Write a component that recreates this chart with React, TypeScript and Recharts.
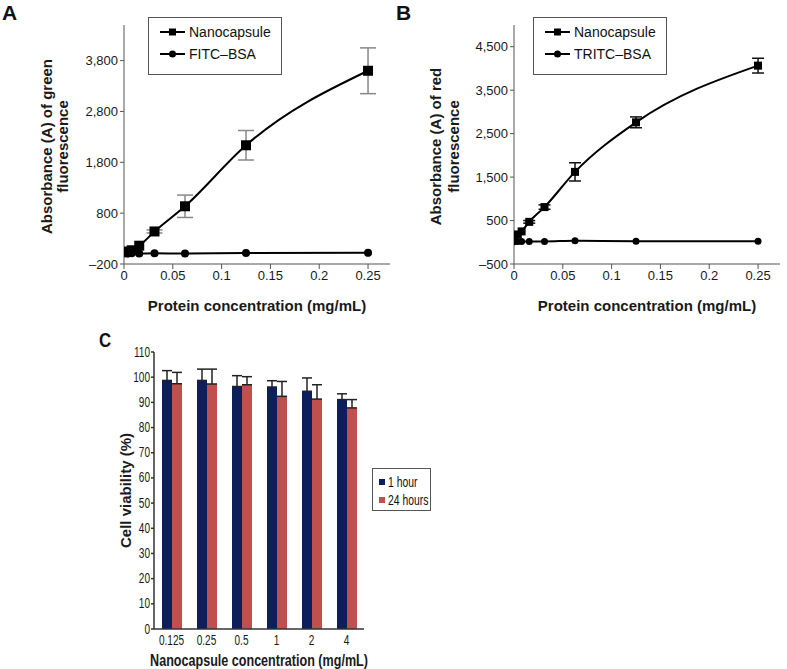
import React from 'react';
import {
  LineChart, Line, BarChart, Bar, XAxis, YAxis, ErrorBar, Legend, Label,
} from 'recharts';

// protein concentration (mg/mL), shared by panels A and B
const protein = [0, 0.0039, 0.0078, 0.0156, 0.03125, 0.0625, 0.125, 0.25];
const proteinTicks = [0, 0.05, 0.1, 0.15, 0.2, 0.25];

// panel A – green fluorescence
const greenNano = [30, 45, 70, 160, 440, 935, 2135, 3600];
const greenNanoErr = [0, 0, 0, 0, 30, 220, 290, 450];
const fitcBsa = [15, 5, 10, 5, 10, 5, 15, 20];
const greenTicks = [-200, 800, 1800, 2800, 3800];

// panel B – red fluorescence
const redNano = [130, 180, 250, 470, 810, 1620, 2760, 4065];
const redNanoErr = [0, 0, 0, 30, 50, 210, 125, 170];
const tritcBsa = [10, 20, 20, 20, 20, 35, 25, 25];
const redTicks = [-500, 500, 1500, 2500, 3500, 4500];

// panel C – cell viability
const capsuleConc = ['0.125', '0.25', '0.5', '1', '2', '4'];
const viability1h = [98.7, 98.7, 96.3, 96.1, 94.4, 91.1];
const viability1hErr = [3.9, 4.5, 4.3, 2.5, 5.3, 2.3];
const viability24h = [97.4, 97.3, 97.0, 92.4, 91.3, 87.8];
const viability24hErr = [4.5, 5.9, 3.2, 5.9, 5.7, 3.3];
const viabilityTicks = [0, 10, 20, 30, 40, 50, 60, 70, 80, 90, 100, 110];

const SANS = '"Liberation Sans", Arial, sans-serif';
const NAVY = '#0c1f5c';
const BRICK = '#c0504d';
const INK = '#1a1a1a';

const fmtThousands = (v: number) =>
  v < 0 ? `\u2013${Math.abs(v).toLocaleString('en-US')}` : v.toLocaleString('en-US');

const squareDot = (size: number) => (props: any) => {
  const { cx, cy, index } = props;
  if (cx == null || cy == null) return <g key={`sq-${index}`} />;
  return <rect key={`sq-${index}`} x={cx - size / 2} y={cy - size / 2} width={size} height={size} fill="#000" />;
};

const circleDot = (r: number) => (props: any) => {
  const { cx, cy, index } = props;
  if (cx == null || cy == null) return <g key={`ci-${index}`} />;
  return <circle key={`ci-${index}`} cx={cx} cy={cy} r={r} fill="#000" />;
};

const TwoLineYLabel = (props: any) => {
  const { viewBox, lines, xs } = props;
  const cy = viewBox.y + viewBox.height / 2 + 2;
  return (
    <g>
      {lines.map((l: string, i: number) => (
        <text
          key={l}
          x={xs[i]}
          y={cy}
          transform={`rotate(-90 ${xs[i]} ${cy})`}
          textAnchor="middle"
          dominantBaseline="central"
          fontWeight="bold"
          fontSize={15}
          fill={INK}
          fontFamily={SANS}
        >
          {l}
        </text>
      ))}
    </g>
  );
};

const LineLegend = ({ names }: { names: string[] }) => (
  <div style={{ border: '1px solid #555', background: '#fff', width: '100%', height: '100%', boxSizing: 'border-box', padding: '3px 0 0 11px', fontFamily: SANS, fontSize: 14, color: '#111', whiteSpace: 'nowrap' }}>
    {names.map((n, i) => (
      <div key={n} style={{ display: 'flex', alignItems: 'center', height: 22 }}>
        <svg width={25} height={12} style={{ marginRight: 4 }}>
          <line x1={0} y1={6} x2={25} y2={6} stroke="#000" strokeWidth={2} />
          {i === 0
            ? <rect x={9} y={2.5} width={7} height={7} fill="#000" />
            : <circle cx={12.5} cy={6} r={3.5} fill="#000" />}
        </svg>
        <span>{n}</span>
      </div>
    ))}
  </div>
);

interface PanelProps {
  nano: number[];
  nanoErr: number[];
  bsa: number[];
  bsaName: string;
  yDomain: [number, number];
  yTicks: number[];
  yLines: string[];
  yLineXs: number[];
  sq: number;
  r: number;
  errColor: string;
  errWidth: number;
  legendLeft: number;
}

const FluorescencePanel = (p: PanelProps) => {
  const data = protein.map((x, i) => ({ x, nano: p.nano[i], nanoErr: p.nanoErr[i], bsa: p.bsa[i] }));
  return (
    <LineChart width={397} height={320} data={data} margin={{ top: 25, right: 7, bottom: 0, left: 0 }}>
      <XAxis
        type="number"
        dataKey="x"
        domain={[0, 0.2725]}
        ticks={proteinTicks}
        allowDataOverflow
        height={56}
        stroke="#555"
        tickSize={5}
        tickMargin={2}
        tick={{ fill: INK, fontSize: 13, fontFamily: SANS }}
      >
        <Label value="Protein concentration (mg/mL)" position="insideBottom" offset={9} fontWeight="bold" fontSize={15} fill={INK} fontFamily={SANS} />
      </XAxis>
      <YAxis
        type="number"
        domain={p.yDomain}
        ticks={p.yTicks}
        allowDataOverflow
        width={124}
        stroke="#555"
        tickSize={4}
        tickMargin={2}
        tickFormatter={fmtThousands}
        tick={{ fill: INK, fontSize: 13, fontFamily: SANS }}
      >
        <Label content={<TwoLineYLabel lines={p.yLines} xs={p.yLineXs} />} />
      </YAxis>
      <Legend
        layout="vertical"
        align="center"
        verticalAlign="middle"
        wrapperStyle={{ left: p.legendLeft, top: 17, width: 134, height: 58 }}
        content={() => <LineLegend names={['Nanocapsule', p.bsaName]} />}
      />
      <Line dataKey="bsa" type="monotone" stroke="#000" strokeWidth={2} dot={circleDot(p.r)} isAnimationActive={false} />
      <Line dataKey="nano" type="monotone" stroke="#000" strokeWidth={2} dot={squareDot(p.sq)} isAnimationActive={false}>
        <ErrorBar dataKey="nanoErr" direction="y" width={p.errWidth} stroke={p.errColor} strokeWidth={1.5} />
      </Line>
    </LineChart>
  );
};

// panel C uses a condensed look: regular font squeezed horizontally
const NarrowXTick = (props: any) => {
  const { x, y, payload } = props;
  return (
    <g transform={`translate(${x},${y + 11})`}>
      <text transform="scale(0.72,1)" textAnchor="middle" dominantBaseline="central" fontSize={14} fill={INK} fontFamily={SANS}>
        {payload.value}
      </text>
    </g>
  );
};

const NarrowYTick = (props: any) => {
  const { x, y, payload } = props;
  return (
    <g transform={`translate(${x},${y})`}>
      <text transform="scale(0.72,1)" textAnchor="end" dominantBaseline="central" fontSize={14} fill={INK} fontFamily={SANS}>
        {payload.value}
      </text>
    </g>
  );
};

const NarrowXTitle = (props: any) => {
  const { viewBox } = props;
  const cx = viewBox.x + viewBox.width / 2;
  return (
    <g transform={`translate(${cx},${330})`}>
      <text transform="scale(0.74,1)" textAnchor="middle" dominantBaseline="central" fontSize={17} fontWeight="bold" fill={INK} fontFamily={SANS}>
        Nanocapsule concentration (mg/mL)
      </text>
    </g>
  );
};

const ViabilityLegend = () => (
  <div style={{ border: '1px solid #555', background: '#fff', width: '100%', height: '100%', boxSizing: 'border-box', padding: '4px 0 0 6px', fontFamily: SANS, fontSize: 14, color: '#111', whiteSpace: 'nowrap' }}>
    {[['1 hour', NAVY], ['24 hours', BRICK]].map(([n, c]) => (
      <div key={n} style={{ display: 'flex', alignItems: 'center', height: 18 }}>
        <span style={{ display: 'inline-block', width: 6, height: 6, background: c, marginRight: 3, flex: 'none' }} />
        <span style={{ display: 'inline-block', transform: 'scaleX(0.74)', transformOrigin: 'left center' }}>{n}</span>
      </div>
    ))}
  </div>
);

const ViabilityChart = () => {
  const data = capsuleConc.map((c, i) => ({
    c,
    h1: viability1h[i],
    h1Err: [0, viability1hErr[i]],
    h24: viability24h[i],
    h24Err: [0, viability24hErr[i]],
  }));
  return (
    <BarChart width={450} height={339} data={data} margin={{ top: 22, right: 86, bottom: 0, left: 0 }} barGap={0} barSize={10}>
      <XAxis
        dataKey="c"
        height={40}
        interval={0}
        stroke="#333"
        strokeWidth={1.5}
        tickLine={false}
        tickSize={0}
        tickMargin={0}
        tick={<NarrowXTick />}
      >
        <Label content={<NarrowXTitle />} />
      </XAxis>
      <YAxis
        domain={[0, 110]}
        ticks={viabilityTicks}
        interval={0}
        width={154}
        stroke="#333"
        strokeWidth={1.5}
        tickSize={3}
        tickMargin={1}
        tick={<NarrowYTick />}
      >
        <Label value="Cell viability (%)" angle={-90} position="insideLeft" offset={126} fontWeight="bold" fontSize={15} fill={INK} fontFamily={SANS} style={{ textAnchor: 'middle' }} />
      </YAxis>
      <Legend
        layout="vertical"
        align="center"
        verticalAlign="middle"
        wrapperStyle={{ left: 372, top: 138, width: 59, height: 43 }}
        content={() => <ViabilityLegend />}
      />
      <Bar dataKey="h1" name="1 hour" fill={NAVY} isAnimationActive={false}>
        <ErrorBar dataKey="h1Err" direction="y" width={5} stroke="#222" strokeWidth={1.5} />
      </Bar>
      <Bar dataKey="h24" name="24 hours" fill={BRICK} isAnimationActive={false}>
        <ErrorBar dataKey="h24Err" direction="y" width={5} stroke="#222" strokeWidth={1.5} />
      </Bar>
    </BarChart>
  );
};

const letterStyle: React.CSSProperties = {
  position: 'absolute', fontFamily: SANS, fontWeight: 'bold', fontSize: 21, lineHeight: '21px', color: '#111',
};

export default function App() {
  return (
    <div style={{ position: 'absolute', left: 0, top: 0, width: 787, height: 669, background: '#fff', fontFamily: SANS }}>
      <div style={{ position: 'absolute', left: 0, top: 0 }}>
        <FluorescencePanel
          nano={greenNano}
          nanoErr={greenNanoErr}
          bsa={fitcBsa}
          bsaName={'FITC\u2013BSA'}
          yDomain={[-200, 4500]}
          yTicks={greenTicks}
          yLines={['Absorbance (A) of green', 'fluorescence']}
          yLineXs={[46, 62]}
          sq={10}
          r={4}
          errColor="#888"
          errWidth={8}
          legendLeft={148}
        />
      </div>
      <div style={{ position: 'absolute', left: 390, top: 0 }}>
        <FluorescencePanel
          nano={redNano}
          nanoErr={redNanoErr}
          bsa={tritcBsa}
          bsaName={'TRITC\u2013BSA'}
          yDomain={[-500, 5000]}
          yTicks={redTicks}
          yLines={['Absorbance (A) of red', 'fluorescence']}
          yLineXs={[45, 63]}
          sq={8}
          r={3.5}
          errColor="#111"
          errWidth={6}
          legendLeft={143}
        />
      </div>
      <div style={{ position: 'absolute', left: 0, top: 330 }}>
        <ViabilityChart />
      </div>
      <div style={{ ...letterStyle, left: 2, top: 2 }}>A</div>
      <div style={{ ...letterStyle, left: 396, top: 2 }}>B</div>
      <div style={{ ...letterStyle, left: 99, top: 329, transform: 'scaleX(0.8)', transformOrigin: 'left top' }}>C</div>
    </div>
  );
}
